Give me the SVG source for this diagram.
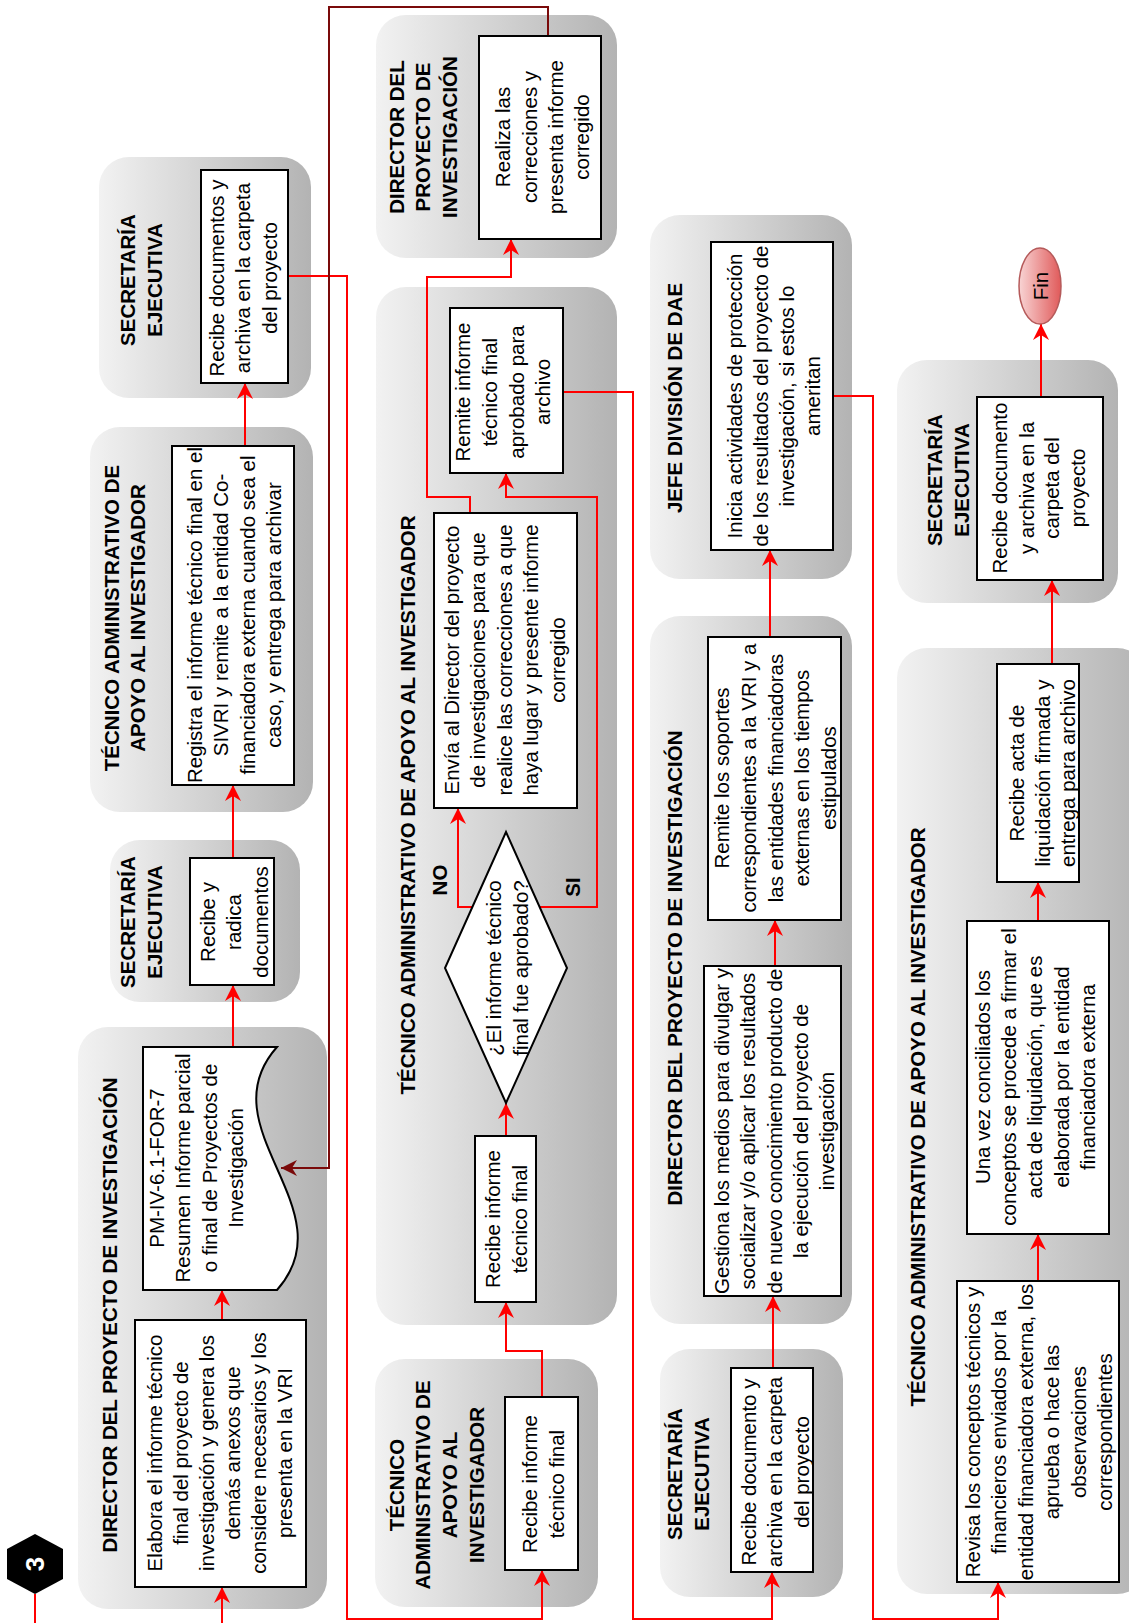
<svg xmlns="http://www.w3.org/2000/svg" width="1129" height="1623" viewBox="0 0 1129 1623">
<defs>
<linearGradient id="lane" x1="0" y1="0" x2="1" y2="0">
<stop offset="0" stop-color="#f2f2f2"/>
<stop offset="1" stop-color="#b3b3b3"/>
</linearGradient>
<linearGradient id="fin" x1="0" y1="0" x2="1" y2="0">
<stop offset="0" stop-color="#f8d4d4"/>
<stop offset="1" stop-color="#e05a5a"/>
</linearGradient>
<marker id="ar" viewBox="0 0 16 16" markerWidth="16" markerHeight="16" refX="16" refY="8" orient="auto" markerUnits="userSpaceOnUse">
<path d="M0,0 L16,8 L0,16 L5,8 Z" fill="#ff0000"/>
</marker>
<marker id="ard" viewBox="0 0 16 16" markerWidth="16" markerHeight="16" refX="16" refY="8" orient="auto" markerUnits="userSpaceOnUse">
<path d="M0,0 L16,8 L0,16 L5,8 Z" fill="#7a0a0a"/>
</marker>
</defs>
<style>
.lane{fill:url(#lane);}
.box{fill:#ffffff;stroke:#000000;stroke-width:2;}
.t{font-family:"Liberation Sans",Arial,sans-serif;font-size:20.5px;fill:#000000;text-anchor:middle;}
.h{font-family:"Liberation Sans",Arial,sans-serif;font-size:20.5px;font-weight:bold;fill:#000000;text-anchor:middle;}
.c{fill:none;stroke:#ff0000;stroke-width:2;}
.cd{fill:none;stroke:#7a0a0a;stroke-width:2;}
</style>

<g id="lanes">
<rect id="lane1" class="lane" x="78" y="1027" width="249" height="582" rx="30"/>
<rect id="lane2" class="lane" x="110" y="840" width="190" height="162" rx="30"/>
<rect id="lane3" class="lane" x="90" y="427" width="223" height="385" rx="30"/>
<rect id="lane4" class="lane" x="99" y="157" width="212" height="241" rx="30"/>
<rect id="lane5" class="lane" x="375" y="1359" width="223" height="248" rx="30"/>
<rect id="lane6" class="lane" x="376" y="287" width="241" height="1038" rx="30"/>
<rect id="lane7" class="lane" x="376" y="15" width="241" height="243" rx="30"/>
<rect id="lane8" class="lane" x="660" y="1349" width="183" height="248" rx="30"/>
<rect id="lane9" class="lane" x="650" y="616" width="202" height="708" rx="30"/>
<rect id="lane10" class="lane" x="650" y="215" width="202" height="364" rx="30"/>
<rect id="lane11" class="lane" x="897" y="648" width="250" height="946" rx="30"/>
<rect id="lane12" class="lane" x="897" y="360" width="221" height="243" rx="30"/>
</g>

<g id="lane-titles">
<text class="h" transform="translate(0 1315) rotate(-90)"><tspan x="0" y="117">DIRECTOR DEL PROYECTO DE INVESTIGACIÓN</tspan></text>
<text class="h" transform="translate(0 922) rotate(-90)"><tspan x="0" y="135">SECRETARÍA</tspan><tspan x="0" y="162">EJECUTIVA</tspan></text>
<text class="h" transform="translate(0 618) rotate(-90)"><tspan x="0" y="119">TÉCNICO ADMINISTRATIVO DE</tspan><tspan x="0" y="145">APOYO AL INVESTIGADOR</tspan></text>
<text class="h" transform="translate(0 280) rotate(-90)"><tspan x="0" y="135">SECRETARÍA</tspan><tspan x="0" y="162">EJECUTIVA</tspan></text>
<text class="h" transform="translate(0 1485) rotate(-90)"><tspan x="0" y="404">TÉCNICO</tspan><tspan x="0" y="430">ADMINISTRATIVO DE</tspan><tspan x="0" y="457">APOYO AL</tspan><tspan x="0" y="484">INVESTIGADOR</tspan></text>
<text class="h" transform="translate(0 805) rotate(-90)"><tspan x="0" y="415">TÉCNICO ADMINISTRATIVO DE APOYO AL INVESTIGADOR</tspan></text>
<text class="h" transform="translate(0 137) rotate(-90)"><tspan x="0" y="404">DIRECTOR DEL</tspan><tspan x="0" y="430">PROYECTO DE</tspan><tspan x="0" y="457">INVESTIGACIÓN</tspan></text>
<text class="h" transform="translate(0 1474) rotate(-90)"><tspan x="0" y="682">SECRETARÍA</tspan><tspan x="0" y="709">EJECUTIVA</tspan></text>
<text class="h" transform="translate(0 968) rotate(-90)"><tspan x="0" y="682">DIRECTOR DEL PROYECTO DE INVESTIGACIÓN</tspan></text>
<text class="h" transform="translate(0 398) rotate(-90)"><tspan x="0" y="682">JEFE DIVISIÓN DE DAE</tspan></text>
<text class="h" transform="translate(0 1117) rotate(-90)"><tspan x="0" y="925">TÉCNICO ADMINISTRATIVO DE APOYO AL INVESTIGADOR</tspan></text>
<text class="h" transform="translate(0 480) rotate(-90)"><tspan x="0" y="942">SECRETARÍA</tspan><tspan x="0" y="969">EJECUTIVA</tspan></text>
</g>

<g id="connectors">
<path class="c" d="M35,1594 L35,1630"/>
<path class="c" d="M222,1630 L222,1587" marker-end="url(#ar)"/>
<path class="c" d="M222,1320 L222,1290" marker-end="url(#ar)"/>
<path class="c" d="M233,1047 L233,985" marker-end="url(#ar)"/>
<path class="c" d="M233,858 L233,785" marker-end="url(#ar)"/>
<path class="c" d="M233,446 L245,446 L245,383" marker-end="url(#ar)"/>
<path class="c" d="M288,276 L347,276 L347,1619 L542,1619 L542,1570" marker-end="url(#ar)"/>
<path class="c" d="M542,1397 L542,1351 L506,1351 L506,1302" marker-end="url(#ar)"/>
<path class="c" d="M506,1136 L506,1103" marker-end="url(#ar)"/>
<path class="c" d="M478,907 L458,907 L458,808" marker-end="url(#ar)"/>
<path class="c" d="M535,907 L597,907 L597,497 L506,497 L506,473" marker-end="url(#ar)"/>
<path class="c" d="M470,513 L470,497 L427,497 L427,277 L511,277 L511,239" marker-end="url(#ar)"/>
<path class="cd" d="M540,36 L548,36 L548,7 L329,7 L329,1168 L281,1168" marker-end="url(#ard)"/>
<path class="c" d="M563,392 L633,392 L633,1619 L772,1619 L772,1572" marker-end="url(#ar)"/>
<path class="c" d="M773,1368 L773,1296" marker-end="url(#ar)"/>
<path class="c" d="M775,966 L775,920" marker-end="url(#ar)"/>
<path class="c" d="M770,637 L770,550" marker-end="url(#ar)"/>
<path class="c" d="M833,396 L873,396 L873,1619 L998,1619 L998,1582" marker-end="url(#ar)"/>
<path class="c" d="M1038,1281 L1038,1234" marker-end="url(#ar)"/>
<path class="c" d="M1038,921 L1038,882" marker-end="url(#ar)"/>
<path class="c" d="M1052,664 L1052,580" marker-end="url(#ar)"/>
<path class="c" d="M1041,397 L1041,324" marker-end="url(#ar)"/>
</g>

<g id="start">
<polygon points="35,1534 63,1549 63,1579 35,1594 7,1579 7,1549" fill="#000000"/>
<text transform="translate(0 1564) rotate(-90)" font-family="'Liberation Sans',Arial,sans-serif" font-size="26" font-weight="bold" fill="#ffffff" text-anchor="middle"><tspan x="0" y="44">3</tspan></text>
</g>

<g id="n-elabora">
<rect class="box" x="135" y="1320" width="171" height="267"/>
<text class="t" transform="translate(0 1453) rotate(-90)"><tspan x="0" y="162">Elabora el informe técnico</tspan><tspan x="0" y="188">final del proyecto de</tspan><tspan x="0" y="214">investigación y genera los</tspan><tspan x="0" y="240">demás anexos que</tspan><tspan x="0" y="266">considere necesarios y los</tspan><tspan x="0" y="292">presenta en la VRI</tspan></text>
</g>

<g id="n-doc">
<path class="box" d="M143,1047 L277,1047 C205,1128 349,1209 277,1290 L143,1290 Z"/>
<text class="t" transform="translate(0 1168) rotate(-90)"><tspan x="0" y="164">PM-IV-6.1-FOR-7</tspan><tspan x="0" y="190">Resumen Informe parcial</tspan><tspan x="0" y="217">o final de Proyectos de</tspan><tspan x="0" y="243">Investigación</tspan></text>
</g>

<g id="n-radica">
<rect class="box" x="190" y="858" width="84" height="127"/>
<text class="t" transform="translate(0 922) rotate(-90)"><tspan x="0" y="215">Recibe y</tspan><tspan x="0" y="241">radica</tspan><tspan x="0" y="268">documentos</tspan></text>
</g>

<g id="n-registra">
<rect class="box" x="172" y="446" width="122" height="339"/>
<text class="t" transform="translate(0 615) rotate(-90)"><tspan x="0" y="202">Registra el informe técnico final en el</tspan><tspan x="0" y="228">SIVRI y remite a la entidad Co-</tspan><tspan x="0" y="255">financiadora externa cuando sea el</tspan><tspan x="0" y="281">caso, y entrega para archivar</tspan></text>
</g>

<g id="n-archiva1">
<rect class="box" x="201" y="170" width="87" height="213"/>
<text class="t" transform="translate(0 278) rotate(-90)"><tspan x="0" y="224">Recibe documentos y</tspan><tspan x="0" y="250">archiva en la carpeta</tspan><tspan x="0" y="277">del proyecto</tspan></text>
</g>

<g id="n-recibe1">
<rect class="box" x="505" y="1397" width="73" height="173"/>
<text class="t" transform="translate(0 1484) rotate(-90)"><tspan x="0" y="537">Recibe informe</tspan><tspan x="0" y="564">técnico final</tspan></text>
</g>

<g id="n-recibe2">
<rect class="box" x="475" y="1136" width="61" height="166"/>
<text class="t" transform="translate(0 1219) rotate(-90)"><tspan x="0" y="500">Recibe informe</tspan><tspan x="0" y="527">técnico final</tspan></text>
</g>

<g id="n-decision">
<polygon class="box" points="506,832 567,968 506,1103 445,968"/>
<text class="t" transform="translate(0 968) rotate(-90)"><tspan x="0" y="501">¿El informe técnico</tspan><tspan x="0" y="528">final fue aprobado?</tspan></text>
<text class="h" transform="translate(0 880) rotate(-90)"><tspan x="0" y="447">NO</tspan></text>
<text class="h" transform="translate(0 887) rotate(-90)"><tspan x="0" y="580">SI</tspan></text>
</g>

<g id="n-envia">
<rect class="box" x="434" y="513" width="143" height="295"/>
<text class="t" transform="translate(0 660) rotate(-90)"><tspan x="0" y="459">Envía al Director del proyecto</tspan><tspan x="0" y="485">de investigaciones para que</tspan><tspan x="0" y="512">realice las correcciones a que</tspan><tspan x="0" y="538">haya lugar y presente informe</tspan><tspan x="0" y="565">corregido</tspan></text>
</g>

<g id="n-remite1">
<rect class="box" x="450" y="308" width="113" height="165"/>
<text class="t" transform="translate(0 392) rotate(-90)"><tspan x="0" y="470">Remite informe</tspan><tspan x="0" y="497">técnico final</tspan><tspan x="0" y="524">aprobado para</tspan><tspan x="0" y="550">archivo</tspan></text>
</g>

<g id="n-realiza">
<rect class="box" x="479" y="36" width="122" height="203"/>
<text class="t" transform="translate(0 137) rotate(-90)"><tspan x="0" y="510">Realiza las</tspan><tspan x="0" y="537">correcciones y</tspan><tspan x="0" y="563">presenta informe</tspan><tspan x="0" y="589">corregido</tspan></text>
</g>

<g id="n-archiva2">
<rect class="box" x="731" y="1368" width="82" height="204"/>
<text class="t" transform="translate(0 1472) rotate(-90)"><tspan x="0" y="756">Recibe documento y</tspan><tspan x="0" y="782">archiva en la carpeta</tspan><tspan x="0" y="809">del proyecto</tspan></text>
</g>

<g id="n-gestiona">
<rect class="box" x="704" y="966" width="137" height="330"/>
<text class="t" transform="translate(0 1131) rotate(-90)"><tspan x="0" y="729">Gestiona los medios para divulgar y</tspan><tspan x="0" y="755">socializar y/o aplicar los resultados</tspan><tspan x="0" y="782">de nuevo conocimiento producto de</tspan><tspan x="0" y="808">la ejecución del proyecto de</tspan><tspan x="0" y="834">investigación</tspan></text>
</g>

<g id="n-soportes">
<rect class="box" x="708" y="637" width="133" height="283"/>
<text class="t" transform="translate(0 778) rotate(-90)"><tspan x="0" y="729">Remite los soportes</tspan><tspan x="0" y="756">correspondientes a la VRI y a</tspan><tspan x="0" y="783">las entidades financiadoras</tspan><tspan x="0" y="809">externas en los tiempos</tspan><tspan x="0" y="836">estipulados</tspan></text>
</g>

<g id="n-inicia">
<rect class="box" x="711" y="242" width="122" height="308"/>
<text class="t" transform="translate(0 396) rotate(-90)"><tspan x="0" y="742">Inicia actividades de protección</tspan><tspan x="0" y="768">de los resultados del proyecto de</tspan><tspan x="0" y="794">investigación, si estos lo</tspan><tspan x="0" y="820">ameritan</tspan></text>
</g>

<g id="n-revisa">
<rect class="box" x="957" y="1281" width="162" height="301"/>
<text class="t" transform="translate(0 1432) rotate(-90)"><tspan x="0" y="980">Revisa los conceptos técnicos y</tspan><tspan x="0" y="1006">financieros enviados por la</tspan><tspan x="0" y="1033">entidad financiadora externa, los</tspan><tspan x="0" y="1059">aprueba o hace las</tspan><tspan x="0" y="1086">observaciones</tspan><tspan x="0" y="1112">correspondientes</tspan></text>
</g>

<g id="n-unavez">
<rect class="box" x="967" y="921" width="142" height="313"/>
<text class="t" transform="translate(0 1077) rotate(-90)"><tspan x="0" y="990">Una vez conciliados los</tspan><tspan x="0" y="1016">conceptos se procede a firmar el</tspan><tspan x="0" y="1042">acta de liquidación, que es</tspan><tspan x="0" y="1069">elaborada por la entidad</tspan><tspan x="0" y="1095">financiadora externa</tspan></text>
</g>

<g id="n-acta">
<rect class="box" x="997" y="664" width="82" height="218"/>
<text class="t" transform="translate(0 773) rotate(-90)"><tspan x="0" y="1024">Recibe acta de</tspan><tspan x="0" y="1050">liquidación firmada y</tspan><tspan x="0" y="1075">entrega para archivo</tspan></text>
</g>

<g id="n-archiva3">
<rect class="box" x="977" y="397" width="126" height="183"/>
<text class="t" transform="translate(0 488) rotate(-90)"><tspan x="0" y="1007">Recibe documento</tspan><tspan x="0" y="1034">y archiva en la</tspan><tspan x="0" y="1059">carpeta del</tspan><tspan x="0" y="1085">proyecto</tspan></text>
</g>

<g id="n-fin">
<ellipse cx="1040" cy="286" rx="21" ry="38" fill="url(#fin)" stroke="#b55a5a" stroke-width="1.5"/>
<text class="t" transform="translate(0 286) rotate(-90)" font-size="22"><tspan x="0" y="1048">Fin</tspan></text>
</g>
</svg>
